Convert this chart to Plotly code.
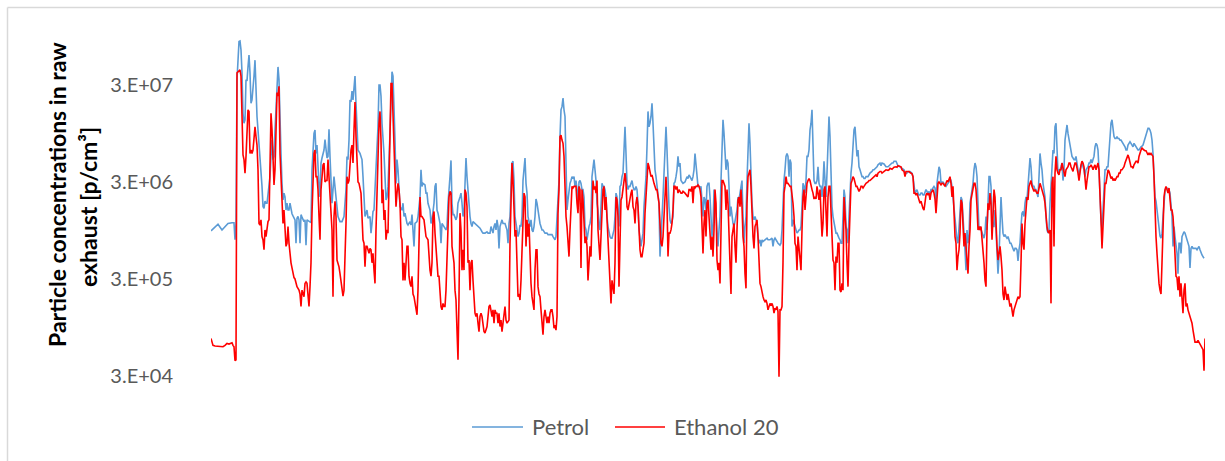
import plotly.graph_objects as go

# Time axis: sample index over the drive cycle (no labels shown on the chart)
# Values: particle concentration [p/cm3]

petrol = [
(0,9.4e5),(4,1.04e6),(7,1.1e6),(11,9.6e5),(14,1.04e6),(17,1.12e6),(21,1.14e6),(23,1.14e6),(24,7.6e5),(25,1.12e6),
(26,3.4e7),(27,6.9e7),(28,8.4e7),(29,8.5e7),(30,6.9e7),(31,4.0e7),(32,1.53e7),(33,1.21e7),(34,1.31e7),(35,3.4e7),
(36,3.3e7),(37,4.6e7),(38,6.1e7),(39,4.0e7),(40,1.94e7),(41,2.1e7),(42,2.7e7),(43,3.7e7),(44,5.4e7),(45,2.5e7),
(46,1.42e7),(47,1.03e7),(48,7.5e6),(49,4.9e6),(50,4.0e6),(51,2.7e6),(52,1.67e6),(53,1.6e6),(54,1.9e6),(55,1.81e6),
(56,1.81e6),(57,2.2e6),(58,2.7e6),(59,3.4e6),(60,5.5e6),(61,8.1e6),(62,5.1e6),(63,5.5e6),(64,1.03e7),(65,1.94e7),
(66,3.7e7),(67,4.6e7),(68,3.4e7),(69,1.03e7),(70,5.9e6),(71,2.9e6),(72,1.96e6),(73,2.3e6),(74,2.1e6),(75,1.54e6),
(76,1.81e6),(77,1.54e6),(78,1.54e6),(79,1.81e6),(80,1.49e6),(81,1.41e6),(82,1.34e6),(83,1.27e6),(84,1.22e6),(85,7.0e5),
(86,1.27e6),(87,1.32e6),(88,1.22e6),(89,7.0e5),(90,1.38e6),(91,1.3e6),(92,1.22e6),(93,1.17e6),(94,1.22e6),(95,6.7e5),
(96,1.22e6),(97,1.2e6),(98,1.17e6),(99,1.14e6),(100,1.14e6),(101,4.0e6),(102,6.4e6),(103,9.5e6),(104,1.03e7),(105,5.9e6),
(106,7.2e6),(107,4.0e6),(108,2.7e6),(109,2.1e6),(110,4.7e6),(111,5.3e6),(112,5.7e6),(113,6.4e6),(114,8.2e6),
(116,5.3e6),(117,5.5e6),(118,1.05e7),(119,5.5e6),(120,2.5e6),(121,1.81e6),(122,2.5e6),(123,3.4e6),(125,2.1e6),(126,1.54e6),
(127,1.32e6),(129,1.17e6),(131,1.17e6),(133,1.32e6),(135,2.5e6),(136,5.5e6),(137,5.1e6),(138,8.1e6),(139,2.1e7),(140,2.0e7),
(141,2.6e7),(142,2.1e7),(143,2.7e7),(144,3.7e7),(145,1.94e7),(146,8.1e6),(147,6.4e6),(149,5.9e6),(151,5.1e6),(152,3.4e6),
(153,1.67e6),(154,1.32e6),(156,1.54e6),(157,1.27e6),(159,1.32e6),(160,8.9e5),(161,1.12e6),(162,1.49e6),(163,1.54e6),(165,3.7e6),
(166,5.5e6),(167,1.11e7),(168,3.0e7),(169,3.0e7),(170,2.3e7),(171,1.21e7),(173,5.9e6),(174,2.9e6),(175,1.96e6),(176,2.1e6),
(177,2.7e6),(179,9.5e6),(180,2.3e7),(181,4.1e7),(182,3.7e7),(183,2.1e7),(184,8.1e6),(185,2.9e6),(186,5.1e6),(187,4.0e6),
(188,2.7e6),(189,1.67e6),(191,1.54e6),(192,1.81e6),(193,1.32e6),(194,1.43e6),(196,1.12e6),(197,1.08e6),(199,1.17e6),(200,1.08e6),
(201,1.38e6),(202,1.04e6),(203,6.5e5),(204,1.12e6),(206,1.17e6),(207,1.32e6),(209,2.1e6),(210,4.0e6),(211,2.7e6),(212,2.9e6),
(214,2.8e6),(215,2.3e6),(216,2.3e6),(217,1.81e6),(219,1.54e6),(220,1.12e6),(221,1.22e6),(223,1.81e6),(224,2.7e6),(225,2.9e6),
(226,1.54e6),(227,1.43e6),(229,1.12e6),(230,7.0e5),(231,1.12e6),(233,1.04e6),(235,9.6e5),(236,1.04e6),(237,1.81e6),(239,3.4e6),
(240,5.0e6),(241,1.81e6),(242,1.38e6),(243,1.38e6),(244,1.32e6),(245,1.22e6),(246,1.32e6),(247,1.81e6),(249,2.1e6),(250,2.3e6),
(251,1.81e6),(252,1.32e6),(253,1.54e6),(254,4.0e6),(255,5.3e6),(256,3.4e6),(257,2.3e6),(258,1.67e6),(259,1.32e6),(260,1.12e6),
(261,1.04e6),(262,1.17e6),(264,1.12e6),(266,1.08e6),(267,1.04e6),(269,1.0e6),(271,9.2e5),(272,8.9e5),(274,8.9e5),(276,9.2e5),
(277,8.9e5),(279,8.9e5),(280,1.04e6),(281,9.6e5),(282,8.9e5),(283,1.04e6),(284,1.12e6),(285,9.6e5),(286,1.22e6),(287,1.04e6),
(288,6.2e5),(289,1.04e6),(291,1.22e6),(292,1.12e6),(294,1.12e6),(296,9.6e5),(297,7.0e5),(298,1.12e6),(299,1.32e6),(300,2.7e6),
(301,4.7e6),(302,4.9e6),(303,3.1e6),(304,1.32e6),(305,1.12e6),(306,9.6e5),(307,8.2e5),(308,8.9e5),(309,1.08e6),(310,1.04e6),
(311,1.32e6),(312,3.1e6),(313,4.0e6),(314,5.3e6),(315,2.9e6),(316,2.3e6),(317,1.32e6),(318,1.12e6),(319,1.04e6),(320,1.22e6),
(321,9.6e5),(322,9.2e5),(323,1.04e6),(324,1.32e6),(325,2.0e6),(326,1.81e6),(328,1.22e6),(329,1.12e6),(331,9.6e5),(332,9.6e5),
(334,8.9e5),(336,8.9e5),(337,8.6e5),(339,8.6e5),(341,8.6e5),(342,8.2e5),(344,7.6e5),(345,8.2e5),(346,1.43e6),(347,2.1e6),
(348,3.1e6),(349,8.8e6),(350,1.66e7),(351,1.79e7),(352,2.2e7),(353,1.66e7),(354,1.42e7),(355,4.7e6),(356,1.54e6),(357,1.96e6),
(358,2.5e6),(359,2.9e6),(360,3.1e6),(361,3.4e6),(362,3.25e6),(363,3.4e6),(364,2.7e6),
(365,3.1e6),(366,2.5e6),(367,1.81e6),(368,3.0e6),(369,3.1e6),(370,2.9e6),(371,2.5e6),(372,2.5e6),(373,2.1e6),(374,1.04e6),
(375,9.6e5),(376,7.6e5),(377,9.6e5),(378,1.04e6),(379,1.12e6),(380,1.32e6),(381,3.4e6),(382,4.0e6),(383,5.1e6),(384,4.0e6),
(385,3.1e6),(386,1.81e6),(387,1.54e6),(388,1.04e6),(389,9.6e5),(390,1.67e6),(391,2.9e6),(392,2.7e6),(393,2.7e6),(394,2.5e6),
(395,2.1e6),(396,1.32e6),(397,1.04e6),(399,8.2e5),(400,7.9e5),(401,7.9e5),(403,9.6e5),(404,1.32e6),(405,2.3e6),(406,2.1e6),
(407,1.32e6),(408,1.04e6),(409,2.7e6),(410,2.8e6),(411,3.4e6),(412,3.7e6),(413,6.4e6),(414,1.11e7),(415,5.9e6),(416,2.9e6),
(417,2.5e6),(418,2.7e6),(419,2.7e6),(420,2.9e6),(421,3.1e6),(422,2.7e6),(423,2.5e6),(424,2.5e6),(425,2.7e6),(426,2.5e6),
(427,1.81e6),(428,9.6e5),(429,7.6e5),(430,6.5e5),(431,7.6e5),(432,8.9e5),(433,1.67e6),(434,2.3e6),(435,3.4e6),(436,6.9e6),
(437,1.6e7),(438,1.11e7),(439,1.21e7),(440,1.42e7),(441,1.94e7),(442,1.21e7),(443,5.5e6),(444,4.0e6),(445,3.4e6),(446,2.7e6),
(447,2.5e6),(448,1.81e6),(449,5.1e5),(450,9.6e5),(451,1.32e6),(452,2.1e6),(453,3.7e6),(454,6.9e6),(455,1.11e7),(456,6.4e6),
(457,2.5e6),(458,1.67e6),(459,1.22e6),(460,1.12e6),(461,1.17e6),(462,1.32e6),(463,2.9e6),(464,3.0e6),(465,3.4e6),(466,4.0e6),
(467,5.5e6),(468,4.3e6),(469,4.7e6),(470,3.1e6),(471,3.0e6),(472,2.9e6),(474,3.0e6),(476,3.4e6),(477,3.25e6),(478,3.55e6),
(479,3.4e6),(481,3.1e6),(482,3.4e6),(483,4.0e6),(484,5.9e6),(485,4.7e6),(486,3.7e6),(487,2.7e6),(488,2.7e6),(489,2.6e6),
(490,2.7e6),(491,1.81e6),(492,1.32e6),(493,2.1e6),(494,1.96e6),(495,1.54e6),(496,2.7e6),(497,2.9e6),(498,2.9e6),(499,2.1e6),
(500,1.32e6),(501,8.2e5),(502,1.04e6),(503,2.5e6),(504,2.1e6),(505,1.32e6),(506,8.2e5),(507,6.5e5),(508,9.6e5),(509,1.32e6),
(510,3.1e6),(511,5.5e6),(512,1.31e7),(513,9.5e6),(514,6.9e6),(515,4.0e6),(516,5.1e6),(517,4.7e6),(518,2.7e6),(519,1.32e6),
(520,1.67e6),(521,1.32e6),(522,1.12e6),(523,1.04e6),(524,1.22e6),(525,1.43e6),(526,1.54e6),(527,2.1e6),(528,1.96e6),(529,2.3e6),
(530,2.9e6),(531,3.1e6),(532,1.32e6),(533,7.0e5),(534,1.04e6),(535,1.32e6),(536,3.1e6),(537,6.9e6),(538,1.21e7),(539,7.5e6),
(540,3.1e6),(541,1.81e6),(542,1.32e6),(543,1.22e6),(544,1.32e6),(545,1.22e6),(546,1.12e6),(547,8.2e5),(548,7.0e5),(549,7.6e5),
(550,6.5e5),(551,7.6e5),(552,7.3e5),(554,7.6e5),(556,7.9e5),(557,7.6e5),(559,7.6e5),(561,7.9e5),(562,6.5e5),(563,7.6e5),
(564,7.9e5),(566,7.3e5),(567,7.0e5),(569,6.7e5),(570,7.0e5),(571,9.6e5),(572,2.1e6),(573,3.1e6),(574,4.0e6),(575,5.5e6),
(576,5.9e6),(577,5.5e6),(578,3.4e6),(579,5.1e6),(580,4.7e6),(581,1.04e6),(582,1.22e6),(583,1.12e6),(584,1.04e6),(585,9.6e5),
(586,8.9e5),(587,9.2e5),(588,9.6e5),(589,9.6e5),(590,1.04e6),(591,1.67e6),(592,2.9e6),(593,2.7e6),(594,2.3e6),(595,3.1e6),
(596,5.5e6),(597,5.5e6),(598,6.4e6),(599,1.03e7),(600,1.21e7),(601,1.66e7),(602,6.9e6),(603,3.1e6),(604,2.9e6),(605,2.9e6),
(606,3.1e6),(607,4.3e6),(608,2.9e6),(609,2.7e6),(610,2.7e6),(611,2.1e6),(612,2.9e6),(613,4.9e6),
(614,3.1e6),(615,2.1e6),(616,3.7e6),(617,7.5e6),(618,1.42e7),(619,8.8e6),(620,2.7e6),(621,1.67e6),(622,1.32e6),(623,1.12e6),
(624,9.6e5),(625,8.9e5),(626,8.9e5),(627,8.2e5),(628,7.9e5),(629,7.6e5),(630,7.0e5),(631,7.0e5),(632,1.32e6),(633,2.5e6),
(634,2.1e6),(635,1.04e6),(636,9.6e5),(637,7.0e5),(638,1.32e6),(639,2.7e6),(640,3.7e6),(641,4.7e6),(642,8.8e6),(643,1.03e7),
(644,1.11e7),(645,8.1e6),(646,5.5e6),(647,6.4e6),(648,4.3e6),(649,4.0e6),(650,3.55e6),(651,3.4e6),(652,3.4e6),(653,3.25e6),
(654,3.25e6),(655,3.4e6),(657,3.4e6),(658,3.55e6),(659,3.7e6),(661,3.85e6),(662,4.0e6),(663,4.0e6),(665,4.15e6),(666,4.3e6),
(667,4.5e6),(669,4.7e6),(670,4.4e6),(671,4.7e6),(673,4.6e6),(674,4.5e6),(675,4.3e6),(677,4.3e6),(678,4.4e6),(679,4.5e6),
(681,4.7e6),(682,4.7e6),(683,4.9e6),(685,4.9e6),(686,4.7e6),(687,4.4e6),(689,4.3e6),(690,4.25e6),(691,4.15e6),(693,4.0e6),
(694,3.65e6),(695,3.65e6),(697,3.85e6),(698,3.85e6),(699,3.85e6),(701,3.7e6),(702,3.4e6),(703,2.5e6),(704,2.3e6),(705,2.4e6),
(706,2.5e6),(707,2.3e6),(708,2.2e6),(709,2.2e6),(710,2.3e6),(711,2.3e6),(712,2.2e6),(713,2.2e6),(714,2.4e6),(715,2.5e6),
(716,2.4e6),(717,2.3e6),(718,2.4e6),(719,2.2e6),(720,2.5e6),(721,2.5e6),(722,2.6e6),(723,2.7e6),(724,2.6e6),(725,1.81e6),
(726,2.9e6),(727,3.4e6),(728,4.3e6),(729,4.0e6),(730,2.9e6),(731,3.0e6),(732,3.0e6),(733,2.9e6),(734,2.8e6),(735,2.7e6),
(736,2.8e6),(737,2.9e6),(738,3.0e6),(739,3.25e6),
(740,3.1e6),(741,2.7e6),(742,2.1e6),(743,1.54e6),(744,1.32e6),(745,9.6e5),(746,7.6e5),(747,7.0e5),(748,9.6e5),(749,1.32e6),
(750,2.1e6),(751,1.96e6),(752,1.32e6),(753,1.12e6),(754,6.0e5),(755,3.7e5),(756,9.6e5),(757,7.0e5),(758,8.2e5),(759,1.81e6),
(760,2.1e6),(761,2.7e6),(762,2.9e6),(763,4.0e6),(764,4.7e6),(765,4.3e6),(766,3.4e6),(767,1.81e6),(768,9.6e5),(769,1.04e6),
(770,9.6e5),(771,8.9e5),(772,8.2e5),(773,7.9e5),(774,8.9e5),(775,1.32e6),(776,9.6e5),(777,1.81e6),(778,3.4e6),(779,3.4e6),
(780,2.7e6),(781,1.32e6),(782,1.04e6),(783,1.04e6),(784,1.54e6),(785,9.6e5),(786,6.5e5),(787,3.4e5),(788,5.1e5),(789,1.32e6),
(790,2.1e6),(791,1.32e6),(792,8.9e5),(793,8.2e5),(794,8.6e5),(795,8.2e5),(796,7.9e5),(797,8.2e5),(798,7.6e5),(799,7.0e5),
(800,7.0e5),(801,6.5e5),(802,6.0e5),(803,5.8e5),(804,6.2e5),(805,6.2e5),(806,6.0e5),(807,4.6e5),(808,6.0e5),(809,7.0e5),
(810,1.04e6),(811,1.43e6),(812,1.49e6),(813,1.32e6),(814,1.81e6),(815,2.1e6),(816,1.96e6),(817,2.7e6),(818,3.7e6),(819,5.3e6),
(820,4.3e6),(821,2.9e6),(822,2.7e6),(823,2.7e6),(824,2.5e6),(825,2.5e6),(826,2.3e6),(827,2.1e6),(828,3.4e6),(829,5.9e6),
(830,4.7e6),(831,4.0e6),(832,2.9e6),(833,2.5e6),(834,2.1e6),(835,1.32e6),(836,9.6e5),(837,8.9e5),(838,9.6e5),(839,1.81e6),
(840,3.1e6),(841,5.5e6),(842,6.4e6),(843,5.9e6),(844,1.11e7),(845,1.21e7),(846,6.4e6),(847,3.7e6),(848,4.0e6),(849,4.0e6),
(850,4.3e6),(851,4.7e6),(852,3.1e6),(853,4.0e6),(854,8.1e6),(855,1.03e7),(856,1.16e7),(857,9.5e6),(858,8.1e6),(859,6.9e6),
(860,6.4e6),(861,5.5e6),(862,5.3e6),(863,5.1e6),(864,5.1e6),
(865,5.5e6),(866,4.7e6),(867,4.0e6),(868,3.4e6),(869,4.0e6),(870,4.5e6),(871,4.7e6),(872,4.3e6),(873,4.0e6),(874,3.4e6),
(875,4.0e6),(876,4.15e6),(877,4.3e6),(878,4.7e6),(879,4.7e6),(880,5.1e6),(881,4.7e6),(882,5.1e6),(883,5.5e6),(884,6.9e6),
(885,7.5e6),(886,7.2e6),(887,6.4e6),(888,4.0e6),(889,2.1e6),(890,1.22e6),(891,9.6e5),(892,1.81e6),(893,3.4e6),(894,4.0e6),
(895,4.0e6),(896,4.3e6),(897,4.3e6),(898,5.9e6),(899,9.5e6),(900,1.21e7),(901,1.31e7),(902,9.9e6),(903,8.8e6),(904,8.4e6),
(905,8.4e6),(906,8.8e6),(907,8.4e6),(908,8.4e6),(909,8.1e6),(910,8.1e6),(911,7.8e6),(912,7.5e6),(913,7.2e6),(914,6.9e6),
(915,6.4e6),(916,6.4e6),(917,7.2e6),(918,7.5e6),(919,7.8e6),(920,7.5e6),(921,7.2e6),(922,6.9e6),(923,7.5e6),(924,7.2e6),
(925,6.9e6),(926,6.7e6),(927,6.4e6),(928,6.4e6),(929,6.7e6),(930,6.9e6),(931,7.0e6),(932,7.2e6),(933,7.8e6),(934,8.4e6),
(935,9.1e6),(936,9.9e6),(937,1.07e7),(938,1.07e7),(939,1.03e7),(940,9.5e6),(941,8.1e6),(942,5.9e6),(943,3.4e6),(944,2.1e6),
(945,1.9e6),(946,1.54e6),(947,1.12e6),(948,9.2e5),(949,8.3e5),(950,7.9e5),(951,8.9e5),(952,1.32e6),(953,1.96e6),(954,2.4e6),
(955,2.6e6),(956,2.6e6),(957,2.55e6),(958,2.5e6),(959,2.3e6),(960,1.81e6),(961,1.32e6),(962,6.5e5),(963,1.04e6),(964,8.2e5),
(965,6.7e5),(966,5.5e5),(967,3.4e5),(968,7.0e5),(969,7.0e5),(970,5.5e5),(971,8.2e5),(972,8.9e5),(973,9.2e5),(974,8.9e5),
(975,8.2e5),(976,7.6e5),(977,7.0e5),(978,6.5e5),(979,3.9e5),(980,6.2e5),(981,6.5e5),(982,6.2e5),(983,6.2e5),(984,6.2e5),
(985,6.2e5),(986,6.0e5),(987,6.2e5),(988,6.5e5),(989,6.0e5),(990,5.5e5),(991,5.3e5),(992,5.1e5),(993,4.9e5),
]

ethanol20 = [
(0,7.3e4),(2,6.2e4),(4,6.1e4),(6,6.1e4),(9,6.1e4),(12,6.0e4),(14,6.2e4),(16,6.5e4),(18,6.4e4),(21,6.6e4),
(22,6.2e4),(23,6.0e4),(24,4.3e4),(25,4.4e4),
(26,4.0e7),(27,4.1e7),(28,4.2e7),(29,4.3e7),(30,3.7e7),(31,1.11e7),(32,5.7e6),(33,5.1e6),(34,3.7e6),(35,5.5e6),
(36,1.03e7),(37,1.66e7),(38,1.6e7),(39,5.9e6),(40,6.4e6),(41,5.9e6),(42,6.4e6),(43,9.5e6),(44,1.11e7),(45,8.8e6),
(46,7.2e6),(47,4.0e6),(48,1.12e6),(49,1.08e6),(50,1.22e6),(51,8.2e5),(52,7.6e5),(53,6.0e5),(54,9.6e5),(55,8.2e5),
(56,1.04e6),(57,1.17e6),(58,1.22e6),(59,3.1e6),(60,1.53e7),(61,1.03e7),(62,4.7e6),(63,2.8e6),(64,4.0e6),(65,1.42e7),
(66,2.5e7),(67,2.3e7),(68,2.9e7),(69,5.9e6),(70,3.4e6),(71,1.96e6),(72,1.12e6),(73,1.54e6),(74,9.6e5),(75,6.5e5),
(76,7.0e5),(77,1.04e6),(78,7.0e5),(79,5.1e5),(80,4.4e5),(81,3.9e5),(82,3.3e5),(83,3.1e5),(84,3.0e5),(85,2.7e5),
(86,2.5e5),(87,2.4e5),(88,2.3e5),(89,2.1e5),(90,1.56e5),(91,2.3e5),(92,2.1e5),(93,1.97e5),(94,2.7e5),(95,2.8e5),
(96,2.7e5),(97,2.1e5),(98,1.56e5),(99,2.5e5),(100,4.4e5),(101,1.43e6),(102,4.0e6),(103,5.9e6),(104,6.4e6),(105,3.4e6),
(106,3.4e6),(107,2.5e6),(108,1.32e6),(109,7.6e5),(110,2.5e6),(111,4.0e6),(112,4.5e6),(113,4.7e6),(114,3.0e6),
(115,3.1e6),(116,3.1e6),(117,5.1e6),(118,3.4e6),(119,1.81e6),(120,1.22e6),(121,9.6e5),(122,1.97e5),(123,1.32e6),(124,1.9e6),
(125,1.32e6),(126,4.7e5),(127,4.4e5),(128,4.0e5),(129,3.4e5),(130,2.7e5),(131,2.3e5),(132,2.0e5),(133,2.3e5),(134,4.4e5),
(135,1.12e6),(136,3.4e6),(137,2.9e6),(138,3.1e6),(139,5.5e6),(140,6.4e6),(141,7.2e6),(142,4.7e6),(143,1.03e7),(144,2.0e7),
(145,8.8e6),(146,4.0e6),(147,3.0e6),(148,2.9e6),(149,2.5e6),(150,2.3e6),(151,1.32e6),(152,7.6e5),(153,7.0e5),(154,4.0e5),
(155,6.5e5),(156,6.5e5),(157,6.0e5),(158,5.5e5),(159,6.2e5),(160,6.0e5),(161,4.4e5),(162,5.5e5),(163,3.7e5),(164,2.7e5),
(165,9.6e5),(166,2.5e6),(167,5.5e6),(168,1.21e7),(169,1.6e7),(170,8.1e6),(171,1.81e6),(172,2.5e6),(173,1.22e6),(174,1.54e6),
(175,7.6e5),(176,9.6e5),(177,8.9e5),(178,2.5e6),(179,6.9e6),(180,3.1e7),(181,3.1e7),(182,1.31e7),(183,5.5e6),(184,2.1e6),
(185,1.67e6),(186,2.3e6),(187,2.9e6),(188,2.5e6),(189,1.81e6),(190,8.2e5),(191,7.6e5),(192,2.9e5),(193,4.4e5),(194,2.9e5),
(195,4.4e5),(196,6.5e5),(197,6.5e5),(198,3.2e5),(199,2.7e5),(200,2.5e5),(201,3.2e5),(202,2.1e5),(203,1.97e5),(204,1.68e5),
(205,1.56e5),(206,1.28e5),(207,2.3e5),(208,1.22e6),(209,2.1e6),(210,1.32e6),(211,1.32e6),(213,1.22e6),(214,9.6e5),(215,8.2e5),
(217,7.6e5),(218,4.7e5),(219,3.7e5),(220,3.2e5),(221,4.4e5),(222,1.32e6),(223,1.49e6),(224,8.9e5),(225,6.5e5),(227,3.2e5),
(228,3.2e5),(229,1.97e5),(230,1.56e5),(231,1.44e5),(232,1.68e5),(233,1.56e5),(234,1.56e5),(235,2.3e5),(237,9.6e5),(238,2.1e6),
(239,2.4e6),
(240,2.3e6),(241,6.5e5),(242,5.1e5),(243,4.4e5),(244,2.3e5),(245,1.82e5),(246,8.9e4),(247,4.4e4),(248,1.97e5),(249,1.43e6),
(250,9.6e5),(251,3.7e5),(252,6.0e5),(253,3.7e5),(254,2.5e6),(255,2.3e6),(256,1.67e6),(257,4.4e5),(258,4.7e5),(259,2.3e5),
(260,4.4e5),(261,4.7e5),(262,2.9e5),(263,1.97e5),(264,1.33e5),(265,1.23e5),(266,1.33e5),(267,1.05e5),(268,8.6e4),(269,1.23e5),
(270,1.33e5),(271,1.23e5),(272,1.05e5),(273,8.6e4),(274,8.3e4),(275,9.3e4),(276,9.7e4),(277,1.23e5),(278,1.56e5),(279,1.62e5),
(280,1.44e5),(281,1.23e5),(282,1.44e5),(283,1.05e5),(284,1.44e5),(285,1.33e5),(286,1.33e5),(287,1.05e5),(288,1.33e5),(289,9.7e4),
(290,1.13e5),(291,8.6e4),(292,1.05e5),(293,1.44e5),(294,1.56e5),(295,1.13e5),(296,1.05e5),(297,1.09e5),(298,1.13e5),(299,7.0e5),
(300,2.1e6),(301,4.7e6),(302,3.1e6),(303,1.43e6),(304,8.2e5),(305,9.6e5),(306,4.4e5),(307,1.97e5),(308,2.1e5),(309,1.82e5),
(310,2.9e5),(311,6.5e5),(312,1.12e6),(313,2.3e6),(314,2.1e6),(315,6.5e5),(316,1.22e6),(317,8.2e5),(318,1.12e6),(319,4.7e5),
(320,2.7e5),(321,1.97e5),(322,1.56e5),(323,1.44e5),(324,3.7e5),(325,6.0e5),(326,6.0e5),(327,2.5e5),(328,2.1e5),(329,1.97e5),
(330,1.44e5),(331,1.05e5),(332,8.0e4),(333,1.23e5),(334,1.44e5),(335,1.23e5),(336,1.05e5),(337,1.23e5),(338,1.05e5),(339,1.33e5),
(340,1.44e5),(341,1.44e5),(342,1.23e5),(343,9.3e4),(344,1.0e5),(345,8.9e4),(346,1.23e5),(347,1.43e6),(348,2.5e6),(349,8.8e6),
(350,9.1e6),(351,8.1e6),(352,7.5e6),(353,5.5e6),(354,1.81e6),(355,1.32e6),(356,1.04e6),(357,7.0e5),(358,5.1e5),(359,9.6e5),
(360,2.1e6),(361,2.7e6),(362,2.6e6),(363,2.7e6),(364,2.7e6),
(365,2.7e6),(366,1.81e6),(367,1.43e6),(368,2.7e6),(369,2.5e6),(370,3.9e5),(371,2.5e6),(372,1.96e6),(373,9.6e5),(374,7.0e5),
(375,8.2e5),(376,6.5e5),(377,2.9e5),(378,5.1e5),(379,6.5e5),(380,5.1e5),(381,1.32e6),(382,3.1e6),(383,2.5e6),(384,2.7e6),
(385,2.3e6),(386,3.1e6),(387,9.6e5),(388,6.5e5),(389,4.7e5),(390,8.2e5),(391,1.81e6),(392,2.5e6),(393,2.7e6),(394,1.54e6),
(395,2.1e6),(396,1.32e6),(397,6.5e5),(398,5.1e5),(399,3.2e5),(400,1.68e5),(401,2.9e5),(402,2.5e5),(403,2.1e5),(404,4.4e5),
(405,2.1e6),(406,1.96e6),(407,1.32e6),(408,2.5e5),(409,8.9e5),(410,1.96e6),(411,2.1e6),(412,2.5e6),(413,2.9e6),(414,3.7e6),
(415,2.9e6),(416,1.67e6),(417,1.54e6),(418,1.81e6),(419,1.96e6),(420,2.3e6),(421,2.5e6),(422,1.67e6),(423,1.54e6),(424,1.12e6),
(425,1.81e6),(426,2.1e6),(427,1.67e6),(428,7.6e5),(429,6.0e5),(430,5.1e5),(431,5.1e5),(432,6.0e5),(433,7.0e5),(434,1.43e6),
(435,2.3e6),(436,3.1e6),(437,4.7e6),(438,4.3e6),(439,3.7e6),(440,3.4e6),(441,3.55e6),(442,3.1e6),(443,2.9e6),(444,2.7e6),
(445,2.5e6),(446,2.5e6),(447,1.96e6),(448,1.81e6),(449,1.12e6),(450,7.0e5),(451,6.5e5),(452,8.2e5),(453,1.32e6),(454,2.5e6),
(455,3.4e6),(456,1.81e6),(457,5.1e5),(458,8.9e5),(459,8.9e5),(460,9.6e5),(461,1.12e6),(462,1.54e6),(463,2.7e6),(464,2.7e6),
(465,2.5e6),(466,2.7e6),(467,2.3e6),(468,2.5e6),(469,2.4e6),(470,2.3e6),(471,2.3e6),(472,2.4e6),(474,2.3e6),(476,2.2e6),
(477,2.1e6),(478,2.5e6),(479,2.5e6),(480,2.4e6),(481,2.7e6),(482,1.81e6),(483,2.7e6),(484,2.6e6),(485,2.7e6),(486,2.7e6),
(487,2.8e6),(488,2.7e6),(489,2.5e6),
(490,2.1e6),(491,9.6e5),(492,5.5e5),(493,1.12e6),(494,1.54e6),(495,8.2e5),(496,1.81e6),(497,1.96e6),(498,1.32e6),(499,1.12e6),
(500,6.0e5),(501,8.2e5),(502,5.1e5),(503,9.6e5),(504,2.5e6),(505,1.81e6),(506,4.7e5),(507,3.7e5),(508,4.4e5),(509,2.7e5),
(510,8.2e5),(511,3.1e6),(512,3.1e6),(513,2.9e6),(514,2.7e6),(515,1.54e6),(516,2.5e6),(517,1.81e6),(518,9.6e5),(519,4.4e5),
(520,2.1e5),(521,8.2e5),(522,9.6e5),(523,1.12e6),(524,6.5e5),(525,4.4e5),(526,9.6e5),(527,1.96e6),(528,2.1e6),(529,1.67e6),
(530,2.5e6),(531,1.67e6),(532,8.2e5),(533,6.5e5),(534,3.4e5),(535,2.4e5),(536,1.81e6),(537,3.4e6),(538,3.7e6),(539,4.0e6),
(540,2.7e6),(541,1.32e6),(542,8.2e5),(543,6.2e5),(544,1.04e6),(545,1.12e6),(546,1.22e6),(547,8.2e5),(548,4.4e5),(549,2.7e5),
(550,2.5e5),(551,2.1e5),(552,1.97e5),(553,1.82e5),(554,1.75e5),(555,1.82e5),(556,1.68e5),(557,1.44e5),(558,1.62e5),(559,1.68e5),
(560,1.62e5),(561,1.68e5),(562,1.56e5),(563,1.33e5),(564,1.5e5),(565,1.44e5),(566,1.56e5),(567,1.38e5),(568,2.95e4),(569,1.44e5),
(570,1.44e5),(571,1.56e5),(572,4.4e5),(573,2.3e6),(574,2.7e6),(575,3.4e6),(576,2.9e6),(577,2.9e6),(578,2.8e6),(579,2.7e6),
(580,2.7e6),(581,2.3e6),(582,1.81e6),(583,1.32e6),(584,7.0e5),(585,6.5e5),(586,3.7e5),(587,8.2e5),(588,6.5e5),(589,4.4e5),
(590,3.7e5),(591,9.6e5),(592,2.1e6),(593,2.5e6),(594,1.54e6),(595,2.1e6),(596,2.9e6),(597,3.1e6),(598,3.25e6),(599,3.1e6),
(600,2.7e6),(601,2.5e6),(602,2.3e6),(603,2.0e6),(604,2.1e6),(605,2.0e6),(606,2.7e6),(607,2.1e6),(608,1.96e6),(609,2.5e6),
(610,1.32e6),(611,8.2e5),(612,1.12e6),(613,2.5e6),(614,2.7e6),
(615,1.54e6),(616,8.2e5),(617,2.1e6),(618,2.7e6),(619,2.7e6),(620,1.54e6),(621,8.2e5),(622,4.7e5),(623,4.4e5),(624,2.3e5),
(625,5.1e5),(626,4.4e5),(627,7.0e5),(628,7.0e5),(629,2.3e5),(630,2.2e5),(631,2.7e5),(632,2.3e5),(633,2.1e6),(634,1.43e6),
(635,9.6e5),(636,4.4e5),(637,2.5e5),(638,7.0e5),(639,2.1e6),(640,2.9e6),(641,3.1e6),(642,3.4e6),(643,3.25e6),(644,2.9e6),
(645,2.7e6),(646,2.7e6),(647,2.5e6),(648,2.4e6),(649,2.5e6),(650,2.7e6),(651,2.7e6),(652,2.6e6),(653,2.7e6),(654,2.8e6),
(655,2.9e6),(657,3.0e6),(658,3.1e6),(659,3.1e6),(661,3.25e6),(662,3.25e6),(663,3.4e6),(665,3.55e6),(666,3.4e6),(667,3.7e6),
(669,3.85e6),(670,3.85e6),(671,3.7e6),(673,3.85e6),(674,3.85e6),(675,4.0e6),(677,3.95e6),(678,4.0e6),(679,4.15e6),(681,4.05e6),
(682,4.15e6),(683,4.25e6),(685,4.3e6),(686,4.25e6),(687,4.4e6),(689,4.3e6),(690,4.3e6),(691,4.0e6),(693,3.85e6),(694,3.4e6),
(695,3.85e6),(697,3.85e6),(698,3.85e6),(699,3.75e6),(701,3.65e6),(702,3.4e6),(703,2.3e6),(704,2.3e6),(705,2.2e6),(706,2.3e6),
(707,2.1e6),(708,1.96e6),(709,1.81e6),(710,1.9e6),(711,1.67e6),(712,1.6e6),(713,1.54e6),(714,1.96e6),(715,2.2e6),(716,2.3e6),
(717,2.2e6),(718,2.3e6),(719,1.96e6),(720,2.3e6),(721,2.4e6),(722,2.5e6),(723,2.3e6),(724,2.0e6),(725,1.43e6),(726,2.1e6),
(727,2.9e6),(728,3.0e6),(729,2.9e6),(730,2.8e6),(731,2.9e6),(732,2.9e6),(733,2.8e6),(734,2.7e6),(735,2.9e6),(736,3.1e6),
(737,3.0e6),(738,3.25e6),(739,3.4e6),
(740,2.9e6),(741,2.1e6),(742,2.7e6),(743,1.12e6),(744,8.2e5),(745,7.0e5),(746,3.7e5),(747,5.1e5),(748,6.0e5),(749,8.9e5),
(750,1.96e6),(751,1.81e6),(752,9.6e5),(753,6.5e5),(754,8.9e5),(755,6.0e5),(756,4.7e5),(757,3.4e5),(758,6.5e5),(759,9.6e5),
(760,1.96e6),(761,2.3e6),(762,2.5e6),(763,2.9e6),(764,2.9e6),(765,2.5e6),(766,1.67e6),(767,9.6e5),(768,1.04e6),(769,9.6e5),
(770,1.04e6),(771,8.2e5),(772,6.0e5),(773,4.4e5),(774,2.9e5),(775,2.5e5),(776,9.6e5),(777,1.81e6),(778,1.54e6),(779,2.3e6),
(780,1.81e6),(781,7.6e5),(782,1.32e6),(783,2.5e6),(784,2.1e6),(785,9.6e5),(786,6.5e5),(787,4.7e5),(788,6.0e5),(789,6.5e5),
(790,5.1e5),(791,3.7e5),(792,2.1e5),(793,1.82e5),(794,2.5e5),(795,2.1e5),(796,1.82e5),(797,2.1e5),(798,1.68e5),(799,1.56e5),
(800,1.68e5),(801,1.44e5),(802,1.23e5),(803,1.44e5),(804,1.56e5),(805,1.68e5),(806,1.75e5),(807,1.97e5),(808,1.9e5),(809,1.97e5),
(810,4.4e5),(811,1.12e6),(812,7.0e5),(813,6.0e5),(814,1.12e6),(815,1.81e6),(816,2.1e6),(817,1.96e6),(818,2.7e6),(819,2.9e6),
(820,3.1e6),(821,2.7e6),(822,2.5e6),(823,2.4e6),(824,2.5e6),(825,2.4e6),(826,2.3e6),(827,2.3e6),(828,2.7e6),(829,2.9e6),
(830,2.7e6),(831,2.5e6),(832,2.3e6),(833,2.1e6),(834,1.81e6),(835,1.32e6),(836,1.04e6),(837,9.2e5),(838,8.9e5),(839,9.6e5),
(840,1.68e5),(841,2.9e6),(842,3.4e6),(843,6.5e5),(844,3.7e6),(845,5.5e6),(846,4.0e6),(847,3.7e6),(848,3.55e6),(849,4.0e6),
(850,4.0e6),(851,4.7e6),(852,4.15e6),(853,3.7e6),(854,3.4e6),(855,4.0e6),(856,4.15e6),(857,4.3e6),(858,4.7e6),(859,4.7e6),
(860,4.3e6),(861,4.0e6),(862,3.85e6),(863,4.3e6),(864,4.7e6),
(865,4.7e6),(866,4.3e6),(867,3.7e6),(868,3.1e6),(869,4.0e6),(870,4.5e6),(871,4.9e6),(872,4.7e6),(873,4.3e6),(874,3.4e6),
(875,2.5e6),(876,3.1e6),(877,4.0e6),(878,4.3e6),(879,4.3e6),(880,4.5e6),(881,4.3e6),(882,4.0e6),(883,4.3e6),(884,4.5e6),
(885,4.0e6),(886,4.3e6),(887,4.7e6),(888,4.0e6),(889,2.5e6),(890,1.22e6),(891,6.2e5),(892,1.12e6),(893,2.5e6),(894,2.9e6),
(895,2.9e6),(896,3.7e6),(897,4.0e6),(898,3.85e6),(899,3.4e6),(900,3.25e6),(901,3.4e6),(902,3.1e6),(903,3.25e6),(904,3.1e6),
(905,3.25e6),(906,3.4e6),(907,3.4e6),(908,3.7e6),(909,3.7e6),(910,4.0e6),(911,4.0e6),(912,4.15e6),(913,4.3e6),(914,4.7e6),
(915,5.1e6),(916,5.5e6),(917,5.7e6),(918,5.3e6),(919,4.9e6),(920,4.3e6),(921,4.3e6),(922,4.15e6),(923,4.5e6),(924,4.7e6),
(925,4.9e6),(926,4.9e6),(927,4.7e6),(928,5.5e6),(929,6.1e6),(930,6.4e6),(931,6.7e6),(932,6.5e6),(933,6.4e6),(934,6.3e6),
(935,6.3e6),(936,6.0e6),(937,5.7e6),(938,6.0e6),(939,5.7e6),(940,5.9e6),(941,5.7e6),(942,5.5e6),(943,3.4e6),(944,1.32e6),
(945,8.2e5),(946,5.5e5),(947,3.2e5),(948,2.7e5),(949,2.3e5),(950,2.1e5),(951,4.4e5),(952,1.12e6),(953,2.1e6),(954,2.5e6),
(955,2.7e6),(956,2.5e6),(957,2.3e6),(958,2.6e6),(959,2.1e6),(960,1.54e6),(961,1.54e6),(962,1.32e6),(963,8.9e5),(964,6.0e5),
(965,3.2e5),(966,3.1e5),(967,2.3e5),(968,3.2e5),(969,1.97e5),(970,2.7e5),(971,1.68e5),(972,1.33e5),(973,2.3e5),(974,2.7e5),
(975,1.56e5),(976,1.68e5),(977,1.44e5),(978,1.33e5),(979,1.23e5),(980,1.13e5),(981,1.05e5),(982,8.9e4),(983,7.6e4),(984,6.7e4),
(985,6.7e4),(986,6.7e4),(987,7.0e4),(988,6.7e4),(989,6.5e4),(990,6.0e4),(991,5.8e4),(992,5.6e4),(993,3.4e4),(994,7.3e4),
]

y_tick_values = [3e4, 3e5, 3e6, 3e7]
y_tick_labels = ["3.E+04", "3.E+05", "3.E+06", "3.E+07"]
series_names = ["Petrol", "Ethanol 20"]
series_colors = ["#5B9BD5", "#FF0000"]
y_title_lines = ["Particle concentrations in raw", "exhaust [p/cm³]"]

petrol_t, petrol_v = zip(*petrol)
eth_t, eth_v = zip(*ethanol20)

fig = go.Figure()
fig.add_trace(go.Scatter(x=list(petrol_t), y=list(petrol_v), mode="lines", name=series_names[0],
                         line=dict(color=series_colors[0], width=1.6), showlegend=False))
fig.add_trace(go.Scatter(x=list(eth_t), y=list(eth_v), mode="lines", name=series_names[1],
                         line=dict(color=series_colors[1], width=1.6), showlegend=False))

L, R, T, B = 211, 20, 25, 83
W, H = 1225, 461
pw, ph = W - L - R, H - T - B

def px_x(x):
    return (x - L) / pw

def px_y(y):
    return (H - B - y) / ph

# Legend drawn as line samples + labels (Excel-style long line keys)
legend_y = 427
legend_items = [(472, 523, 530), (615, 665, 672)]
shapes = [
    dict(type="line", xref="paper", yref="paper", x0=px_x(7.5), x1=px_x(1235), y0=px_y(7.5), y1=px_y(7.5),
         line=dict(color="#D9D9D9", width=1.5)),
    dict(type="line", xref="paper", yref="paper", x0=px_x(7.5), x1=px_x(7.5), y0=px_y(7.5), y1=px_y(470),
         line=dict(color="#D9D9D9", width=1.5)),
]
annotations = [
    dict(text=f"<b>{y_title_lines[0]}</b>", x=px_x(57), y=px_y(195), xref="paper", yref="paper",
         textangle=-90, showarrow=False, xanchor="center", yanchor="middle",
         font=dict(size=23, color="#000000")),
    dict(text=f"<b>{y_title_lines[1]}</b>", x=px_x(88), y=px_y(207), xref="paper", yref="paper",
         textangle=-90, showarrow=False, xanchor="center", yanchor="middle",
         font=dict(size=23, color="#000000")),
]
for (x0, x1, xt), name, col in zip(legend_items, series_names, series_colors):
    shapes.append(dict(type="line", xref="paper", yref="paper", x0=px_x(x0), x1=px_x(x1),
                       y0=px_y(legend_y), y1=px_y(legend_y), line=dict(color=col, width=1.6)))
    annotations.append(dict(text=name, x=px_x(xt), y=px_y(legend_y), xref="paper", yref="paper",
                            showarrow=False, xanchor="left", yanchor="middle",
                            font=dict(size=22, color="#595959")))

fig.update_layout(
    width=W, height=H,
    margin=dict(l=L, r=R, t=T, b=B, pad=0),
    paper_bgcolor="white", plot_bgcolor="white",
    font=dict(family="Lato, Open Sans, sans-serif", color="#595959"),
    showlegend=False,
    xaxis=dict(range=[0, 994], showticklabels=False, showgrid=False, zeroline=False,
               showline=False, ticks=""),
    yaxis=dict(type="log", range=[4.456, 8.095], tickvals=y_tick_values, ticktext=y_tick_labels,
               showgrid=False, zeroline=False, showline=False, ticks="",
               tickfont=dict(size=20, color="#595959"), ticklabelstandoff=37),
    annotations=annotations,
    shapes=shapes,
)

fig.write_html("out.html")
